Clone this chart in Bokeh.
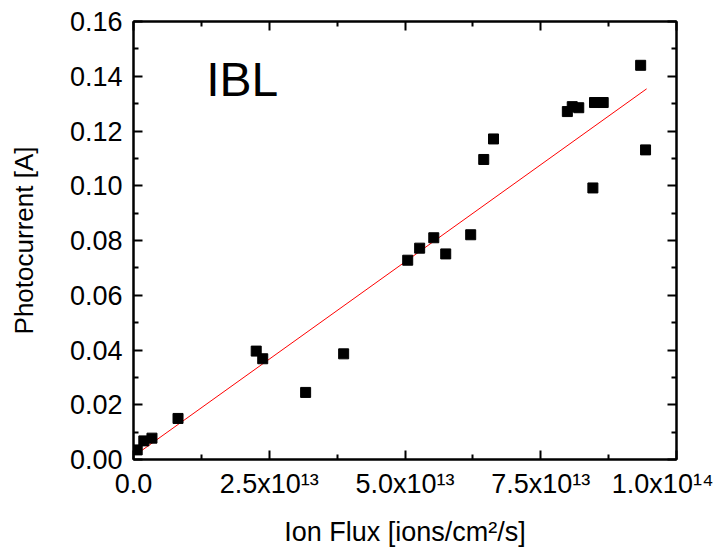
from bokeh.plotting import figure
from bokeh.models import (Range1d, FixedTicker, LinearAxis, PrintfTickFormatter, Label)
from bokeh.embed import file_html
from bokeh.resources import INLINE

# Data
ion_flux = [0.068e13, 0.19e13, 0.34e13, 0.82e13, 2.26e13, 2.38e13, 3.17e13, 3.87e13,
            5.05e13, 5.27e13, 5.53e13, 5.75e13, 6.21e13, 6.45e13, 6.63e13,
            7.99e13, 8.08e13, 8.20e13, 8.46e13, 8.49e13, 8.65e13, 9.34e13, 9.43e13]
photocurrent = [0.0035, 0.0068, 0.0078, 0.0150, 0.0396, 0.0368, 0.0245, 0.0386,
                0.0728, 0.0772, 0.0810, 0.0751, 0.0821, 0.1096, 0.1171,
                0.1271, 0.1289, 0.1285, 0.0992, 0.1304, 0.1304, 0.1440, 0.1131]

fit_x = [0.068e13, 9.45e13]
fit_y = [0.0021, 0.1354]

x_major = [0.0, 2.5e13, 5.0e13, 7.5e13, 1.0e14]
x_minor = [1.25e13, 3.75e13, 6.25e13, 8.75e13]
x_labels = ["0.0", "2.5x10\u00b9\u00b3", "5.0x10\u00b9\u00b3", "7.5x10\u00b9\u00b3", "1.0x10\u00b9\u2074"]
y_major = [0.0, 0.02, 0.04, 0.06, 0.08, 0.10, 0.12, 0.14, 0.16]
y_minor = [0.01, 0.03, 0.05, 0.07, 0.09, 0.11, 0.13, 0.15]

FONT = "Liberation Sans"

p = figure(width=713, height=553, output_backend="svg", toolbar_location=None,
           x_range=Range1d(0, 1.0e14), y_range=Range1d(0, 0.16),
           min_border_left=133, min_border_right=37, min_border_top=21, min_border_bottom=94,
           x_axis_type=None, y_axis_type=None)
p.grid.visible = False
p.outline_line_color = "black"
p.outline_line_width = 2
p.background_fill_color = "white"
p.border_fill_color = "white"

xt = FixedTicker(ticks=x_major, minor_ticks=x_minor)
yt = FixedTicker(ticks=y_major, minor_ticks=y_minor)


def style(ax):
    ax.axis_line_color = "black"
    ax.axis_line_width = 2
    ax.major_tick_in = 9
    ax.major_tick_out = 0
    ax.minor_tick_in = 5
    ax.minor_tick_out = 0
    ax.major_tick_line_width = 2
    ax.minor_tick_line_width = 2
    ax.major_tick_line_color = "black"
    ax.minor_tick_line_color = "black"
    ax.major_label_text_font = FONT
    ax.major_label_text_color = "black"
    ax.axis_label_text_font = FONT
    ax.axis_label_text_font_style = "normal"
    ax.axis_label_text_color = "black"


xb = LinearAxis(ticker=xt)
style(xb)
xb.major_label_overrides = {v: s for v, s in zip(x_major, x_labels)}
xb.major_label_text_font_size = "27px"
xb.major_label_standoff = 9
xb.axis_label = "Ion Flux [ions/cm\u00b2/s]"
xb.axis_label_text_font_size = "27px"
xb.axis_label_standoff = 15
p.add_layout(xb, "below")

yl = LinearAxis(ticker=yt, formatter=PrintfTickFormatter(format="%.2f"))
style(yl)
yl.major_label_text_font_size = "27px"
yl.major_label_standoff = 11
yl.axis_label = "Photocurrent [A]"
yl.axis_label_text_font_size = "26px"
yl.axis_label_standoff = 28
p.add_layout(yl, "left")

xa = LinearAxis(ticker=xt)
style(xa)
xa.major_label_text_font_size = "0px"
xa.major_label_text_alpha = 0
p.add_layout(xa, "above")

yr = LinearAxis(ticker=yt)
style(yr)
yr.major_label_text_font_size = "0px"
yr.major_label_text_alpha = 0
p.add_layout(yr, "right")

p.line(fit_x, fit_y, line_color="red", line_width=1)
p.scatter(ion_flux, photocurrent, marker="square", size=10,
          fill_color="black", line_color="black")

p.add_layout(Label(x=1.34e13, y=0.1293, text="IBL", text_font=FONT,
                   text_font_size="48px", text_color="black",
                   text_baseline="bottom"))

open("out.html", "w").write(file_html(p, INLINE))
